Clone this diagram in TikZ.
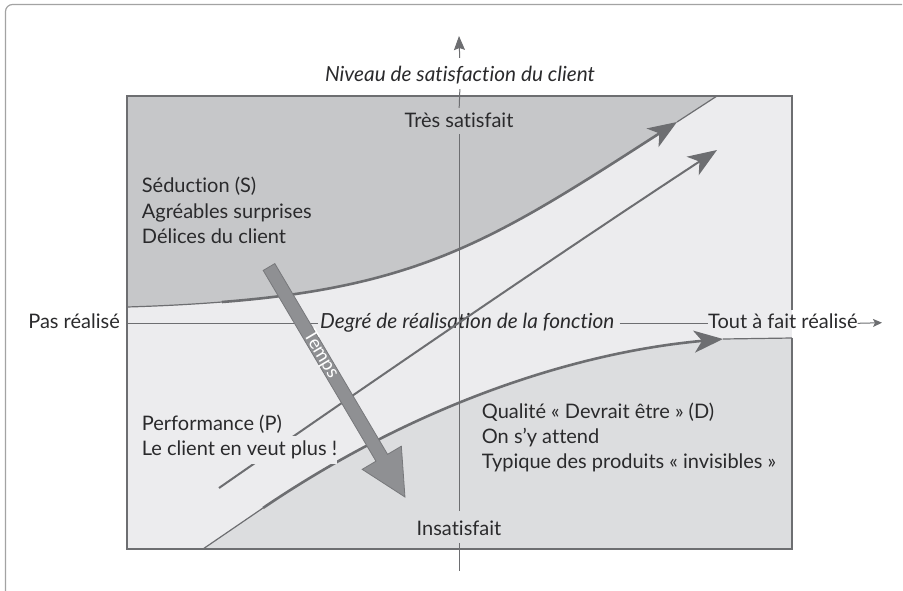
\documentclass[tikz,border=0pt]{standalone}
\usepackage{fontspec}
\setmainfont{Lato}[Ligatures=NoCommon]
\usetikzlibrary{arrows.meta,calc}
\definecolor{darkreg}{HTML}{C6C7C9}
\definecolor{midreg}{HTML}{ECECEE}
\definecolor{lowreg}{HTML}{DCDDDF}
\definecolor{linegray}{HTML}{6D6E71}
\definecolor{tempsgray}{HTML}{8F9093}
\definecolor{tempsedge}{HTML}{77787B}
\definecolor{framegray}{HTML}{A3A3A3}
\definecolor{txt}{HTML}{2A2A2C}
\begin{document}
\begin{tikzpicture}[x=1pt,y=-1pt,
  lbl/.style={font=\fontsize{20}{24}\selectfont, text=txt, inner sep=0pt, text height=14pt, text depth=4pt},
  ilbl/.style={lbl, font=\fontsize{20.8}{24}\selectfont\itshape},
  axisline/.style={draw=linegray, line width=1pt},
  border/.style={draw=linegray, line width=1.3pt},
  thinc/.style={draw=linegray, line width=1.2pt},
  thickc/.style={draw=linegray, line width=2.6pt, -{Stealth[length=29pt,width=22pt,inset=8pt]}},
  perfc/.style={draw=linegray, line width=2pt, -{Stealth[length=29pt,width=22pt,inset=8pt]}}]
\useasboundingbox (0,0) rectangle (903,590);
% outer frame
\draw[framegray, line width=1.2pt, rounded corners=7pt] (5.5,592) -- (5.5,4.5) -- (902,4.5);
% regions
\fill[midreg] (127,96) rectangle (792,549);
\fill[darkreg] (127,96) -- (717,96) -- (677,122) .. controls (497,238) and (422,286.4) .. (222,302)
  .. controls (190,304.5) and (160,306) .. (127,307) -- cycle;
\fill[lowreg] (203,549) -- (263,508) .. controls (413,406) and (573,352.5) .. (723,339)
  -- (792,338) -- (792,549) -- cycle;
% labels
\node[ilbl, anchor=base] (niveau) at (460,81) {Niveau de satisfaction du client};
\node[lbl, anchor=base] (tres) at (459,127.3) {Très satisfait};
\node[lbl, anchor=base] (insat) at (459,535) {Insatisfait};
\node[lbl, anchor=base east] (pas) at (120,328.3) {Pas réalisé};
\node[ilbl, anchor=base west] (degre) at (320,328.3) {Degré de réalisation de la fonction};
\node[lbl, anchor=base west] (tout) at (708,328.3) {Tout à fait réalisé};
\coordinate (vtop) at (459,36);
\coordinate (vbot) at (459,571);
\coordinate (hend) at (882,322.7);
% rectangle border
\coordinate (rTL) at (127,96);
\coordinate (rTR) at (792,96);
\coordinate (rBL) at (127,549);
\coordinate (rBR) at (792,549);
\coordinate (rG1) at (792,310);
\coordinate (rG2) at (792,338);
\draw[border] (rG1) -- (rTR) -- (rTL) -- (rBL) -- (rBR) -- (rG2);
% vertical axis
\draw[axisline, -{Stealth[length=14pt,width=11pt,inset=2pt]}, shorten <=9pt] (niveau.north) -- (vtop);
\draw[axisline, shorten <=4pt, shorten >=5.3pt] (niveau.south) -- (tres.north);
\draw[axisline, shorten <=2.7pt, shorten >=10pt] (tres.south) -- (insat.north);
\draw[axisline, shorten <=4pt] (insat.south) -- (vbot);
% horizontal axis
\draw[axisline, shorten <=7pt, shorten >=2pt] (pas.east) -- (degre.west);
\draw[axisline, shorten <=5pt] (degre.east) -- (tout.west);
\draw[axisline, -{Stealth[length=9pt,width=8pt,inset=2pt]}] (tout.east) -- (hend);
% upper curve (Seduction)
\coordinate (s0) at (127,307);
\coordinate (s1) at (222,302);
\coordinate (s2) at (677,122);
\coordinate (s3) at (717,96);
\draw[thinc] (s0) .. controls (160,306) and (190,304.5) .. (s1);
\draw[thickc] (s1) .. controls (422,286.4) and (497,238) .. (s2);
\draw[thinc] (s2) -- (s3);
% lower curve (Devrait etre)
\coordinate (d0) at (203,549);
\coordinate (d1) at (263,508);
\coordinate (d2) at (723,339);
\coordinate (d3) at (792,338);
\draw[thinc] (d0) -- (d1);
\draw[thickc] (d1) .. controls (413,406) and (573,352.5) .. (d2);
\draw[thinc] (d2) -- (d3);
% performance line
\coordinate (p0) at (219,488);
\coordinate (p1) at (717,150);
\draw[perfc] (p0) .. controls (380,376) and (560,253) .. (p1);
% region texts
\node[lbl, anchor=base west] (s1t) at (141.7,192.7) {Séduction (S)};
\node[lbl, anchor=base west] (s2t) at (141.7,218) {Agréables surprises};
\node[lbl, anchor=base west] (s3t) at (141.7,243.5) {Délices du client};
\node[lbl, anchor=base west] (p1t) at (141.7,430) {Performance (P)};
\node[lbl, anchor=base west, fill=midreg, inner ysep=5pt] (p2t) at (141.7,455) {Le client en veut plus !};
\node[lbl, anchor=base west] (d1t) at (481.7,418.3) {Qualité « Devrait être » (D)};
\node[lbl, anchor=base west] (d2t) at (481.7,443.3) {On s'y attend};
\node[lbl, anchor=base west] (d3t) at (481.7,468.3) {Typique des produits « invisibles »};
% Temps arrow
\begin{scope}[shift={(269,267)}, rotate=-59.41]
\filldraw[fill=tempsgray, draw=tempsedge, line width=0.8pt]
  (0pt,6.75pt) -- (221.6pt,6.75pt) -- (221.6pt,22.75pt) -- (267.2pt,0pt)
  -- (221.6pt,-22.75pt) -- (221.6pt,-6.75pt) -- (0pt,-6.75pt) -- cycle;
\node[rotate=-59.41, text=white, font=\fontsize{18.5}{20}\selectfont, inner sep=0pt] (temps) at (102pt,0pt) {Temps};
\end{scope}
\end{tikzpicture}
\end{document}
